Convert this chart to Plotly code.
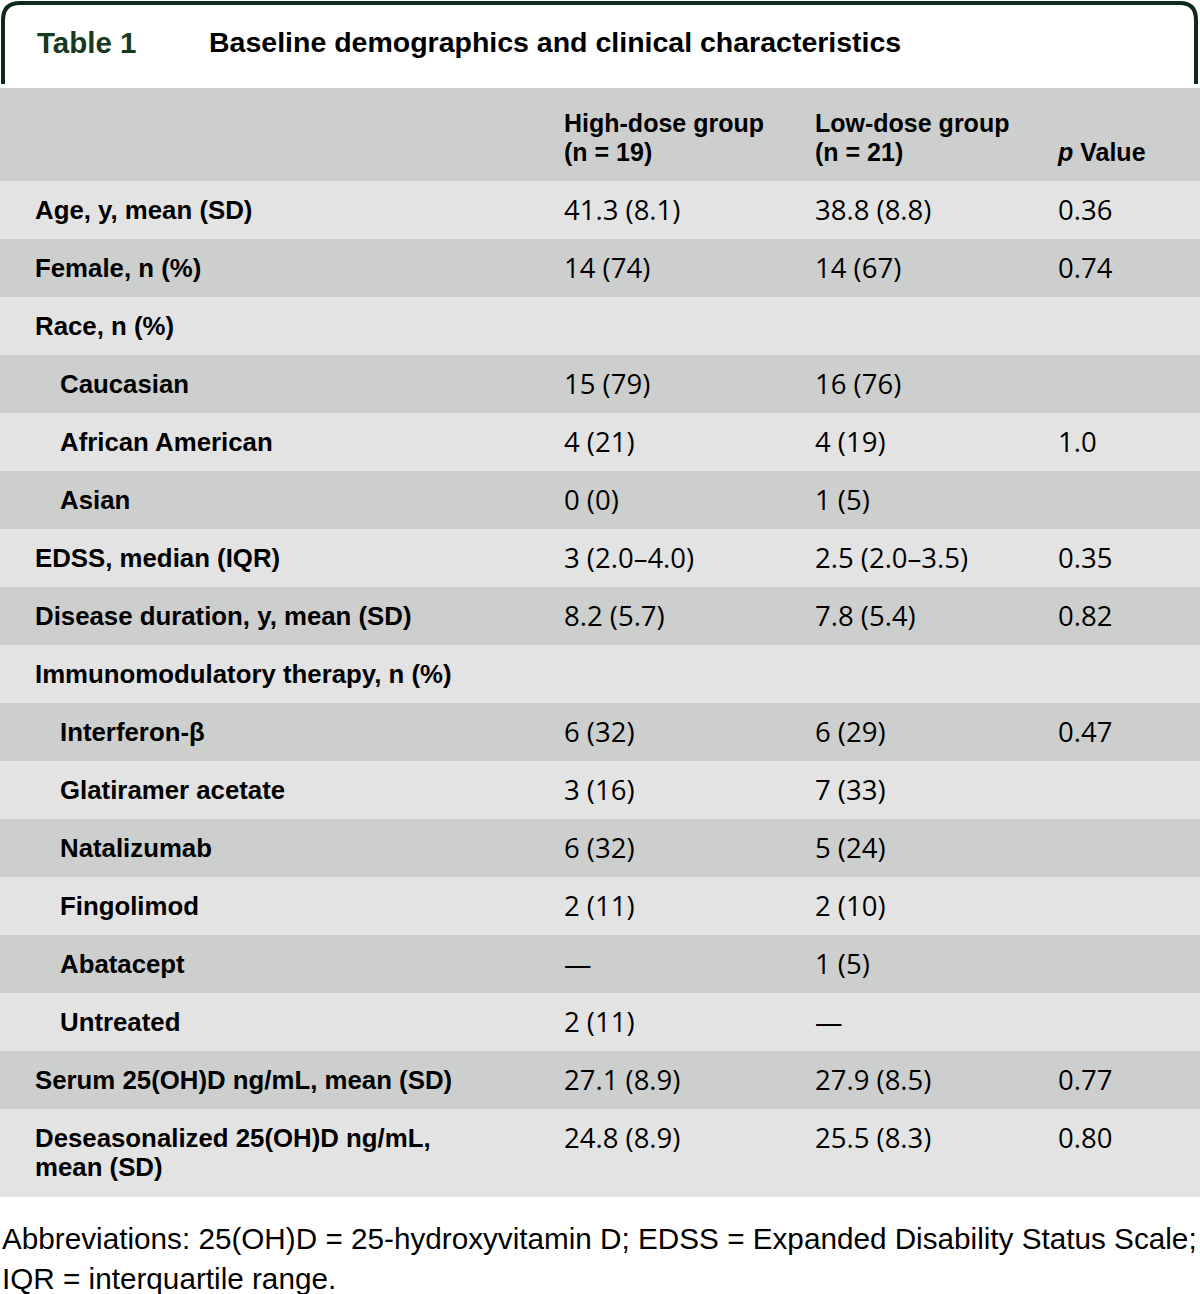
import plotly.graph_objects as go

W, H = 1200, 1294

# ---- data ----
row_labels = [
    "Age, y, mean (SD)", "Female, n (%)", "Race, n (%)", "Caucasian", "African American",
    "Asian", "EDSS, median (IQR)", "Disease duration, y, mean (SD)",
    "Immunomodulatory therapy, n (%)", "Interferon-β", "Glatiramer acetate", "Natalizumab",
    "Fingolimod", "Abatacept", "Untreated", "Serum 25(OH)D ng/mL, mean (SD)",
    "Deseasonalized 25(OH)D ng/mL,<br>mean (SD)",
]
indented = [False, False, False, True, True, True, False, False, False,
            True, True, True, True, True, True, False, False]
high_dose = ["41.3 (8.1)", "14 (74)", "", "15 (79)", "4 (21)", "0 (0)", "3 (2.0–4.0)",
             "8.2 (5.7)", "", "6 (32)", "3 (16)", "6 (32)", "2 (11)", "—", "2 (11)",
             "27.1 (8.9)", "24.8 (8.9)"]
low_dose = ["38.8 (8.8)", "14 (67)", "", "16 (76)", "4 (19)", "1 (5)", "2.5 (2.0–3.5)",
            "7.8 (5.4)", "", "6 (29)", "7 (33)", "5 (24)", "2 (10)", "1 (5)", "—",
            "27.9 (8.5)", "25.5 (8.3)"]
p_values = ["0.36", "0.74", "", "", "1.0", "", "0.35", "0.82", "", "0.47", "", "", "", "",
            "", "0.77", "0.80"]
header_labels = ["High-dose group<br>(n = 19)", "Low-dose group<br>(n = 21)", "<br><i>p</i> Value"]
table_number = "Table 1"
table_title = "Baseline demographics and clinical characteristics"
footnote_lines = ["Abbreviations: 25(OH)D = 25-hydroxyvitamin D; EDSS = Expanded Disability Status Scale;",
                  "IQR = interquartile range."]

# ---- styles / geometry ----
LIGHT = "#E3E3E4"
DARK = "#CDCFCE"
GREEN = "#0D2B17"
LABEL_FONT = dict(family="Liberation Sans", size=25.8, color="black")
VALUE_FONT = dict(family="Open Sans", size=27.5, color="black")
HEADER_FONT = dict(family="Liberation Sans", size=25, color="black")
HEADER_TOP, HEADER_H = 88, 93
ROW_H, LINE_H, FIRST_LINE = 58, 29, 32
COL_X = [35, 564, 815, 1058]
INDENT = 25

# row geometry
tops, heights = [], []
y = HEADER_TOP + HEADER_H
for lab in row_labels:
    n = lab.count("<br>") + 1
    h = ROW_H + (n - 1) * (LINE_H + 1)
    tops.append(y)
    heights.append(h)
    y += h

fig = go.Figure()

# backgrounds
fig.add_shape(type="rect", xref="x", yref="y", x0=0, x1=W, y0=HEADER_TOP, y1=HEADER_TOP + HEADER_H,
              fillcolor=DARK, line_width=0, layer="below")
for i, (t, h) in enumerate(zip(tops, heights)):
    fig.add_shape(type="rect", xref="x", yref="y", x0=0, x1=W, y0=t, y1=t + h,
                  fillcolor=LIGHT if i % 2 == 0 else DARK, line_width=0, layer="below")

# label column (split multi-line labels into separate lines)
lx, ly, lt = [], [], []
for lab, ind, t in zip(row_labels, indented, tops):
    for k, part in enumerate(lab.split("<br>")):
        lx.append(COL_X[0] + (INDENT if ind else 0))
        ly.append(t + FIRST_LINE + k * LINE_H)
        lt.append("<b>" + part + "</b>")
fig.add_trace(go.Scatter(x=lx, y=ly, text=lt, mode="text", textposition="middle right",
                         textfont=LABEL_FONT, hoverinfo="skip", showlegend=False))

# value columns
for col, vals in zip(COL_X[1:], [high_dose, low_dose, p_values]):
    fig.add_trace(go.Scatter(x=[col] * len(vals), y=[t + FIRST_LINE for t in tops], text=vals,
                             mode="text", textposition="middle right", textfont=VALUE_FONT,
                             hoverinfo="skip", showlegend=False))

# header
hx, hy, ht = [], [], []
for col, lab in zip(COL_X[1:], header_labels):
    for k, part in enumerate(lab.split("<br>")):
        if part:
            hx.append(col)
            hy.append(HEADER_TOP + 38 + k * LINE_H)
            ht.append("<b>" + part + "</b>")
fig.add_trace(go.Scatter(x=hx, y=hy, text=ht, mode="text", textposition="middle right",
                         textfont=HEADER_FONT, hoverinfo="skip", showlegend=False))

# frame around the title
fig.add_shape(type="path", xref="x", yref="y",
              path="M 3,84 L 3,20 Q 3,3 20,3 L 1180,3 Q 1196,3 1196,20 L 1196,84",
              line=dict(color=GREEN, width=4))

fig.add_annotation(x=35, y=42, xref="x", yref="y", xanchor="left", yanchor="middle",
                   text="<b>" + table_number + "</b>", showarrow=False,
                   font=dict(family="Liberation Sans", size=29.5, color="#163A1F"))
fig.add_annotation(x=207, y=42, xref="x", yref="y", xanchor="left", yanchor="middle",
                   text="<b>" + table_title + "</b>", showarrow=False,
                   font=dict(family="Liberation Sans", size=28.5, color="black"))
for k, line in enumerate(footnote_lines):
    fig.add_annotation(x=0, y=1238 + 40 * k, xref="x", yref="y", xanchor="left", yanchor="middle",
                       text=line, showarrow=False,
                       font=dict(family="Liberation Sans", size=29.7, color="black"))

fig.update_xaxes(range=[0, W], visible=False, fixedrange=True)
fig.update_yaxes(range=[H, 0], visible=False, fixedrange=True)
fig.update_layout(width=W, height=H, margin=dict(l=0, r=0, t=0, b=0, pad=0),
                  paper_bgcolor="white", plot_bgcolor="white")
fig.write_html("out.html", config={"displayModeBar": False},
               post_script="document.body.style.margin='0';")
